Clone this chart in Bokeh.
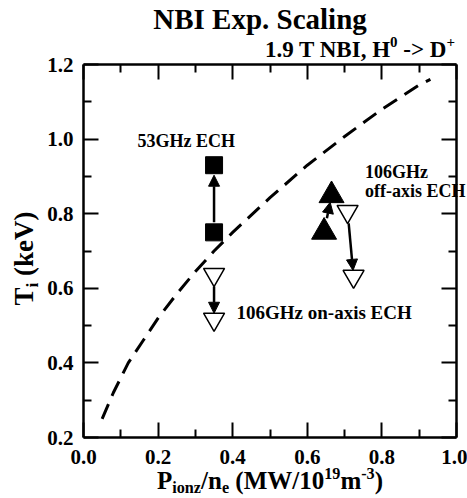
import math
import html as htmlmod
from bokeh.plotting import figure
from bokeh.models import (Range1d, LinearAxis, FixedTicker, Label, Arrow, NormalHead,
                          PrintfTickFormatter, Div, Column)
from bokeh.embed import file_html
from bokeh.resources import INLINE

# ---------------- data ----------------
curve_x = [0.05, 0.08, 0.12, 0.16, 0.20, 0.25, 0.30, 0.35, 0.40, 0.50, 0.60, 0.70, 0.80, 0.90, 0.93]
curve_y = [0.25, 0.32, 0.40, 0.46, 0.52, 0.585, 0.645, 0.70, 0.75, 0.843, 0.93, 1.007, 1.08, 1.145, 1.16]

ech53_x = [0.35, 0.35]          # 53GHz ECH, before -> after
ech53_y = [0.75, 0.93]
on_x = [0.35, 0.35]             # 106GHz on-axis ECH, before -> after
on_y = [0.637, 0.517]
off_filled_x = [0.645, 0.665]   # 106GHz off-axis ECH (filled), before -> after
off_filled_y = [0.751, 0.849]
off_open_x = [0.708, 0.724]     # 106GHz off-axis ECH (open), before -> after
off_open_y = [0.806, 0.632]

x_ticks = [0.0, 0.2, 0.4, 0.6, 0.8, 1.0]
x_tick_labels = ["0.0", "0.2", "0.4", "0.6", "0.8", "1.0"]
x_minor = [0.1, 0.3, 0.5, 0.7, 0.9]
y_ticks = [0.2, 0.4, 0.6, 0.8, 1.0, 1.2]
y_tick_labels = ["0.2", "0.4", "0.6", "0.8", "1.0", "1.2"]
y_minor = [0.3, 0.5, 0.7, 0.9, 1.1]

title_text = [("NBI Exp. Scaling", "n")]
subtitle_text = [("1.9 T NBI, H", "n"), ("0", "sup"), (" -> D", "n"), ("+", "sup")]
x_label_text = [("P", "n"), ("ionz", "sub"), ("/n", "n"), ("e", "sub"), (" (MW/10", "n"),
                ("19", "sup"), ("m", "n"), ("-3", "sup"), (")", "n")]
y_label_text = [("T", "n"), ("i", "sub"), (" (keV)", "n")]

X0, X1, Y0, Y1 = 0.0, 1.0, 0.2, 1.2

# ---------------- layout ----------------
W, H = 467, 498
FL, FR, FT, FB = 83, 456, 64, 437
FONT = "Liberation Serif"

p = figure(width=W, height=H, x_range=Range1d(X0, X1), y_range=Range1d(Y0, Y1),
           output_backend="svg", toolbar_location=None, title=None,
           x_axis_type=None, y_axis_type=None,
           min_border_left=FL, min_border_right=W - FR, min_border_top=FT,
           min_border_bottom=H - FB)
p.outline_line_color = None
p.background_fill_color = "white"
p.border_fill_color = "white"


def px2x(px):
    return X0 + (px - FL) / (FR - FL) * (X1 - X0)


def py2y(py):
    return Y1 - (py - FT) / (FB - FT) * (Y1 - Y0)


def x2px(x):
    return FL + (x - X0) / (X1 - X0) * (FR - FL)


def y2py(y):
    return FT + (Y1 - y) / (Y1 - Y0) * (FB - FT)


def make_axis(ticks, minor, labels, show, standoff):
    ax = LinearAxis(ticker=FixedTicker(ticks=ticks, minor_ticks=minor),
                    formatter=PrintfTickFormatter(format="%.1f"))
    ax.major_label_overrides = {t: l for t, l in zip(ticks, labels)}
    ax.major_tick_in = 15
    ax.major_tick_out = 0
    ax.minor_tick_in = 8
    ax.minor_tick_out = 0
    ax.major_tick_line_width = 2
    ax.minor_tick_line_width = 2
    ax.axis_line_width = 2.5
    ax.axis_line_color = "black"
    ax.major_tick_line_color = "black"
    ax.minor_tick_line_color = "black"
    ax.major_label_text_font = FONT
    ax.major_label_text_font_style = "bold"
    if show:
        ax.major_label_text_color = "black"
        ax.major_label_text_font_size = "21px"
        ax.major_label_standoff = standoff
    else:
        ax.major_label_text_color = None
        ax.major_label_text_font_size = "0px"
        ax.major_label_standoff = 0
    return ax


p.add_layout(make_axis(x_ticks, x_minor, x_tick_labels, True, 12), "below")
p.add_layout(make_axis(y_ticks, y_minor, y_tick_labels, True, 10), "left")
p.add_layout(make_axis(x_ticks, x_minor, x_tick_labels, False, 0), "above")
p.add_layout(make_axis(y_ticks, y_minor, y_tick_labels, False, 0), "right")

# ---------------- scaling curve ----------------
p.line(curve_x, curve_y, line_color="black", line_width=3, line_dash="16 9")


# ---------------- arrows ----------------
def add_arrow(xs, ys, g0, g1):
    ax0, ay0 = x2px(xs[0]), y2py(ys[0])
    ax1, ay1 = x2px(xs[1]), y2py(ys[1])
    L = math.hypot(ax1 - ax0, ay1 - ay0)
    ux, uy = (ax1 - ax0) / L, (ay1 - ay0) / L
    sx, sy = ax0 + ux * g0, ay0 + uy * g0
    ex, ey = ax1 - ux * g1, ay1 - uy * g1
    p.add_layout(Arrow(end=NormalHead(size=11, fill_color="black", line_color="black", line_width=1),
                       x_start=px2x(sx), y_start=py2y(sy), x_end=px2x(ex), y_end=py2y(ey),
                       line_color="black", line_width=2.5))


add_arrow(ech53_x, ech53_y, 10, 10)
add_arrow(on_x, on_y, 12, 6)
add_arrow(off_filled_x, off_filled_y, 14, 7)
add_arrow(off_open_x, off_open_y, 12, 6)

# ---------------- markers ----------------
p.scatter(ech53_x, ech53_y, marker="square", size=17, fill_color="black", line_color="black")
p.scatter(on_x, on_y, marker="inverted_triangle", size=21, fill_color="white",
          line_color="black", line_width=1.5)
p.scatter(off_filled_x, off_filled_y, marker="triangle", size=25, fill_color="black",
          line_color="black")
p.scatter(off_open_x, off_open_y, marker="inverted_triangle", size=21, fill_color="white",
          line_color="black", line_width=1.5)

# ---------------- in-frame annotations (canvas text) ----------------
for txt, lx, lb, fs in [("53GHz ECH", 137, 140, 18), ("106GHz on-axis ECH", 236, 312, 19)]:
    p.add_layout(Label(x=px2x(lx), y=py2y(lb), text=txt, text_font=FONT,
                       text_font_style="bold", text_font_size=f"{fs}px", text_align="left",
                       text_baseline="alphabetic", text_color="black"))

# ---------------- texts outside the frame: HTML overlay ----------------
ASC = 0.8375  # baseline position inside a line box with line-height = font size


def runs(parts, size, sub_drop=0.2):
    out = []
    for t, k in parts:
        e = htmlmod.escape(t)
        if k == "n":
            out.append(e)
        else:
            off = -0.42 * size if k == "sup" else sub_drop * size
            out.append(f'<span style="font-size:{0.65 * size:.1f}px;position:relative;'
                       f'top:{off:.1f}px">{e}</span>')
    return "".join(out)


def block(parts, size, x, base, align="left", vertical=False, sub_drop=0.2):
    common = (f"position:absolute;white-space:nowrap;font-family:'{FONT}';font-weight:bold;"
              f"font-size:{size}px;line-height:{size}px;color:black;")
    inner = runs(parts, size, sub_drop)
    if vertical:
        bw = 240
        cx = x - (ASC * size - size / 2.0)
        left = cx - bw / 2.0
        top = base - size / 2.0
        return (f'<div style="{common}left:{left:.1f}px;top:{top:.1f}px;width:{bw}px;'
                f'height:{size}px;text-align:center;transform:rotate(-90deg);">{inner}</div>')
    top = base - ASC * size
    bw = 500
    if align == "center":
        left, ta = x - bw / 2.0, "center"
    elif align == "right":
        left, ta = x - bw, "right"
    else:
        left, ta = x, "left"
    return (f'<div style="{common}left:{left:.1f}px;top:{top:.1f}px;width:{bw}px;'
            f'text-align:{ta};">{inner}</div>')


pieces = [
    block(title_text, 29, 260, 29, "center"),
    block(subtitle_text, 23, 455, 57, "right"),
    block([("106GHz", "n")], 18, 365, 178, "left"),
    block([("off-axis ECH", "n")], 18, 365, 197, "left"),
    block(x_label_text, 25, 270, 489, "center", sub_drop=0.16),
    block(y_label_text, 27, 33, 258, "center", vertical=True),
]
overlay_html = (f'<div style="position:relative;width:{W}px;height:{H}px;pointer-events:none;">'
                + "".join(pieces) + "</div>")
overlay = Div(text=overlay_html, width=W, height=H, margin=(-H, 0, 0, 0))

page = Column(children=[p, overlay], spacing=0)

open("out.html", "w").write(file_html(page, INLINE))
